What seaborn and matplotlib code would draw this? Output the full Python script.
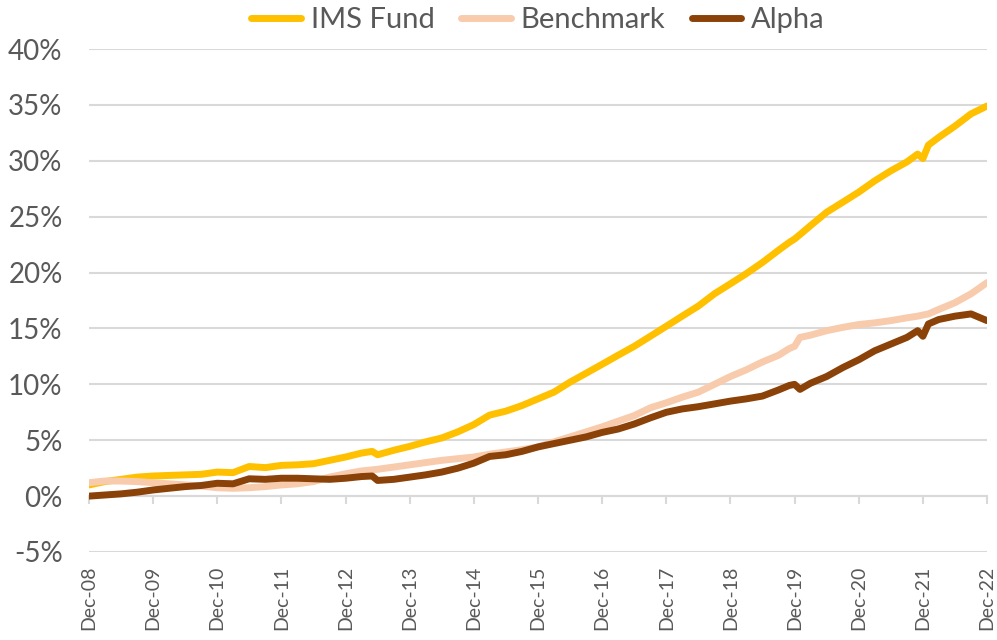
import pandas as pd
import seaborn as sns
import matplotlib.pyplot as plt
import matplotlib.dates as mdates
from matplotlib.ticker import FuncFormatter

sns.set_theme(style="white")
plt.rcParams['font.family'] = ['Lato', 'DejaVu Sans']

# Quarter ends from Dec-08 to Dec-22, plus a few extra months around the visible kinks
dates = ["2008-12", "2009-03", "2009-06", "2009-09", "2009-12", "2010-03", "2010-06", "2010-09",
         "2010-12", "2011-03", "2011-06", "2011-09", "2011-12", "2012-03", "2012-06", "2012-09",
         "2012-12", "2013-03", "2013-05", "2013-06", "2013-09", "2013-12", "2014-03", "2014-06",
         "2014-09", "2014-12", "2015-03", "2015-06", "2015-09", "2015-12", "2016-03", "2016-06",
         "2016-09", "2016-12", "2017-03", "2017-06", "2017-09", "2017-12", "2018-03", "2018-06",
         "2018-09", "2018-12", "2019-03", "2019-06", "2019-09", "2019-11", "2019-12", "2020-01",
         "2020-03", "2020-06", "2020-09", "2020-12", "2021-03", "2021-06", "2021-09", "2021-11",
         "2021-12", "2022-01", "2022-03", "2022-06", "2022-09", "2022-12"]

ims_fund = [1.0, 1.3, 1.5, 1.7, 1.8, 1.85, 1.9, 1.95,
            2.15, 2.1, 2.65, 2.55, 2.75, 2.8, 2.9, 3.2,
            3.5, 3.85, 4.0, 3.7, 4.1, 4.45, 4.85, 5.2,
            5.75, 6.4, 7.25, 7.6, 8.1, 8.7, 9.3, 10.2,
            11.0, 11.8, 12.6, 13.4, 14.3, 15.2, 16.1, 17.0,
            18.1, 19.0, 19.9, 20.9, 22.0, 22.7, 23.0, 23.4,
            24.2, 25.4, 26.3, 27.2, 28.2, 29.1, 29.9, 30.6,
            30.2, 31.4, 32.1, 33.1, 34.2, 34.9]

benchmark = [1.2, 1.35, 1.35, 1.3, 1.2, 1.1, 1.0, 0.9,
             0.75, 0.7, 0.75, 0.85, 1.0, 1.1, 1.3, 1.7,
             2.0, 2.25, 2.35, 2.4, 2.6, 2.8, 3.0, 3.2,
             3.35, 3.5, 3.75, 3.95, 4.15, 4.4, 4.85, 5.3,
             5.75, 6.2, 6.7, 7.2, 7.9, 8.35, 8.85, 9.3,
             10.0, 10.7, 11.3, 12.0, 12.6, 13.2, 13.4, 14.2,
             14.4, 14.8, 15.1, 15.35, 15.5, 15.7, 15.95, 16.1,
             16.2, 16.3, 16.7, 17.3, 18.1, 19.1]

alpha = [0.0, 0.1, 0.2, 0.35, 0.55, 0.7, 0.85, 0.95,
         1.15, 1.1, 1.55, 1.5, 1.6, 1.6, 1.55, 1.5,
         1.6, 1.75, 1.8, 1.4, 1.5, 1.7, 1.9, 2.15,
         2.5, 2.95, 3.55, 3.7, 4.0, 4.4, 4.7, 5.0,
         5.3, 5.7, 6.0, 6.45, 7.0, 7.5, 7.8, 8.0,
         8.25, 8.5, 8.7, 8.95, 9.5, 9.9, 10.0, 9.55,
         10.1, 10.7, 11.5, 12.2, 13.0, 13.6, 14.2, 14.8,
         14.3, 15.4, 15.8, 16.1, 16.3, 15.7]

series_names = ["IMS Fund", "Benchmark", "Alpha"]
colours = ["#FFC000", "#F8CBAD", "#8B4208"]

df = pd.DataFrame({"date": pd.to_datetime(dates, format="%Y-%m"),
                   "IMS Fund": ims_fund, "Benchmark": benchmark, "Alpha": alpha})
long = df.melt(id_vars="date", var_name="series", value_name="value")

text_col = "#595959"
grid_col = "#D9D9D9"

fig = plt.figure(figsize=(9.97, 6.40), dpi=100)
ax = fig.add_axes([0.0893, 0.1375, 0.9007, 0.7859])

sns.lineplot(data=long, x="date", y="value", hue="series", hue_order=series_names,
             palette=colours, linewidth=5, ax=ax,
             solid_capstyle="round", solid_joinstyle="round")

ymin, ymax = -5, 40
ax.set_ylim(ymin, ymax)
ax.set_xlim(df["date"].iloc[0], df["date"].iloc[-1])
ax.set_yticks(range(-5, 41, 5))
ax.yaxis.set_major_formatter(FuncFormatter(lambda v, p: f"{v:.0f}%"))
ax.xaxis.set_major_locator(mdates.YearLocator(base=1, month=12, day=1))
ax.xaxis.set_major_formatter(mdates.DateFormatter("%b-%y"))

ax.grid(axis="y", color=grid_col, linewidth=1.5)
ax.grid(axis="x", visible=False)
for s in ax.spines.values():
    s.set_visible(False)

ax.tick_params(axis="y", length=0, pad=19, labelsize=20, labelcolor=text_col)
ax.tick_params(axis="x", length=0, pad=10, labelsize=14, labelcolor=text_col, labelrotation=90)
ax.set_xlabel("")
ax.set_ylabel("")

# tick marks sit on the 0% line, labels stay at the bottom
zero_ax = ax.secondary_xaxis((0 - ymin) / (ymax - ymin))
zero_ax.set_xticks(ax.get_xticks())
zero_ax.set_xticklabels([])
zero_ax.tick_params(axis="x", direction="out", length=6, width=1.5, color=grid_col)
zero_ax.spines["bottom"].set_color(grid_col)
zero_ax.spines["bottom"].set_linewidth(1.5)

handles, labels = ax.get_legend_handles_labels()
leg = ax.legend(handles, labels, loc="center", bbox_to_anchor=(0.5, 1.058),
                ncol=3, frameon=False, fontsize=21, handlelength=1.7,
                handletextpad=0.35, columnspacing=0.9, labelcolor=text_col)
for h in leg.get_lines():
    h.set_linewidth(5)
    h.set_solid_capstyle("round")

fig.savefig("out.png", dpi=100)
